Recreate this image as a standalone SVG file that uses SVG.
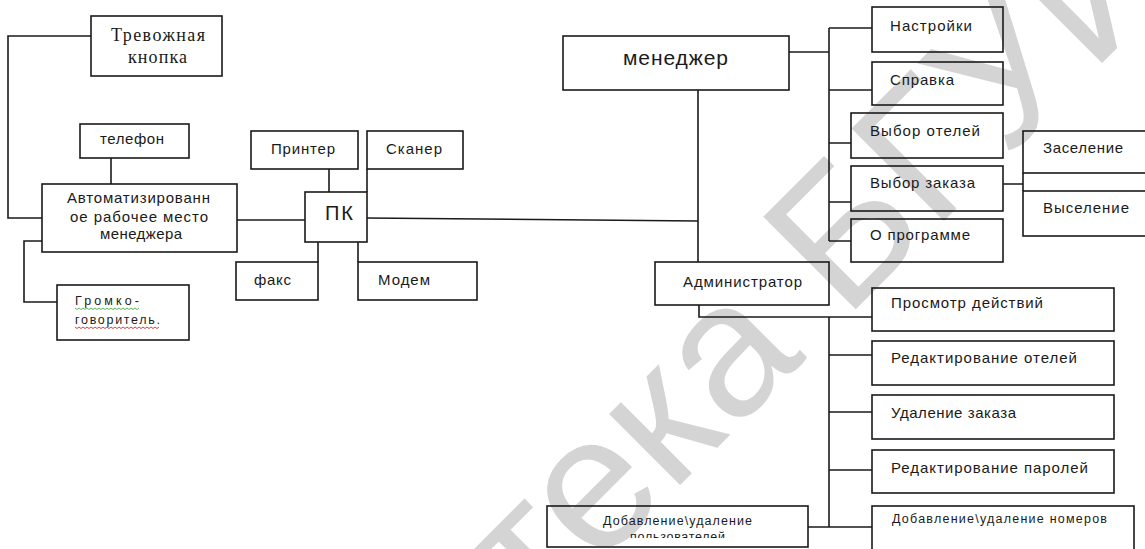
<svg xmlns="http://www.w3.org/2000/svg" width="1145" height="549" viewBox="0 0 1145 549">
<style>
.box{fill:none;stroke:#1a1a1a;stroke-width:1.6}
.ln{fill:none;stroke:#1a1a1a;stroke-width:1.6}
.t{font-family:"Liberation Sans",Arial,sans-serif;font-size:15px;fill:#1a1a1a}
.s{font-family:"Liberation Serif","Times New Roman",serif;font-size:18px;fill:#1a1a1a}
.sm{font-family:"Liberation Sans",Arial,sans-serif;font-size:12.5px;fill:#1a1a1a}
.wm{font-family:"Liberation Sans",Arial,sans-serif;font-size:190px;fill:#d4d4d4}
</style>
<defs>
<clipPath id="clipPolz"><rect x="547" y="506" width="261" height="32"/></clipPath>
</defs>
<rect width="1145" height="549" fill="#ffffff"/>
<text class="wm" transform="translate(77,1088) rotate(-45)">Библиотека БГУИР</text>

<g id="connectors">
<path class="ln" d="M91,36 H8 V218 H42"/>
<path class="ln" d="M111,158 V184"/>
<path class="ln" d="M42,241 H24 V302 H57"/>
<path class="ln" d="M237,220 H305"/>
<path class="ln" d="M329,169 V192"/>
<path class="ln" d="M367,169 V192"/>
<path class="ln" d="M318,242 V262"/>
<path class="ln" d="M358,242 V262"/>
<path class="ln" d="M367,218 L698,221"/>
<path class="ln" d="M698,90 V262"/>
<path class="ln" d="M789,52 H829"/>
<path class="ln" d="M829,28 V241"/>
<path class="ln" d="M829,28 H872 M829,90 H872 M829,143 H851 M829,202 H851 M829,241 H851"/>
<path class="ln" d="M1003,184 H1023 M1023,173 V191"/>
<path class="ln" d="M699,305 V317 H872"/>
<path class="ln" d="M829,317 V527"/>
<path class="ln" d="M829,355 H872 M829,412 H872 M829,470 H872 M808,527 H872"/>
</g>

<g id="trevozhnaya">
<rect class="box" x="91" y="16" width="131" height="60"/>
<text class="s" x="111" y="41" textLength="94">Тревожная</text>
<text class="s" x="128" y="63" textLength="59">кнопка</text>
</g>
<g id="telefon">
<rect class="box" x="80" y="124" width="109" height="34"/>
<text class="t" x="100" y="144" textLength="64">телефон</text>
</g>
<g id="arm">
<rect class="box" x="42" y="184" width="195" height="68"/>
<text class="t" x="67" y="203" textLength="143">Автоматизированн</text>
<text class="t" x="70" y="222" textLength="138">ое рабочее  место</text>
<text class="t" x="100" y="239" textLength="82">менеджера</text>
</g>
<g id="gromkogovoritel">
<rect class="box" x="57" y="285" width="132" height="55"/>
<text class="sm" x="75" y="305" textLength="64">Громко-</text>
<text class="sm" x="75" y="324" textLength="85">говоритель.</text>
<path d="M75,308 l2,1.5 l2,-1.5 l2,1.5 l2,-1.5 l2,1.5 l2,-1.5 l2,1.5 l2,-1.5 l2,1.5 l2,-1.5 l2,1.5 l2,-1.5 l2,1.5 l2,-1.5 l2,1.5 l2,-1.5 l2,1.5 l2,-1.5 l2,1.5 l2,-1.5 l2,1.5 l2,-1.5 l2,1.5 l2,-1.5 l2,1.5 l2,-1.5 l2,1.5 l2,-1.5 l2,1.5 l2,-1.5 l2,1.5 l2,-1.5" fill="none" stroke="#5cb85c" stroke-width="1"/>
<path d="M75,327 l2,1.5 l2,-1.5 l2,1.5 l2,-1.5 l2,1.5 l2,-1.5 l2,1.5 l2,-1.5 l2,1.5 l2,-1.5 l2,1.5 l2,-1.5 l2,1.5 l2,-1.5 l2,1.5 l2,-1.5 l2,1.5 l2,-1.5 l2,1.5 l2,-1.5 l2,1.5 l2,-1.5 l2,1.5 l2,-1.5 l2,1.5 l2,-1.5 l2,1.5 l2,-1.5 l2,1.5 l2,-1.5 l2,1.5 l2,-1.5 l2,1.5 l2,-1.5 l2,1.5 l2,-1.5 l2,1.5 l2,-1.5 l2,1.5 l2,-1.5 l2,1.5 l2,-1.5" fill="none" stroke="#e04040" stroke-width="1"/>
</g>
<g id="printer">
<rect class="box" x="251" y="131" width="107" height="38"/>
<text class="t" x="271" y="154" textLength="64">Принтер</text>
</g>
<g id="scanner">
<rect class="box" x="367" y="131" width="96" height="38"/>
<text class="t" x="386" y="154" textLength="56">Сканер</text>
</g>
<g id="pk">
<rect class="box" x="305" y="192" width="62" height="50"/>
<text class="t" x="325" y="220" style="font-size:20px" textLength="28">ПК</text>
</g>
<g id="faks">
<rect class="box" x="236" y="262" width="82" height="38"/>
<text class="t" x="254" y="285" textLength="37">факс</text>
</g>
<g id="modem">
<rect class="box" x="358" y="262" width="119" height="38"/>
<text class="t" x="378" y="285" textLength="52">Модем</text>
</g>
<g id="menedzher">
<rect class="box" x="563" y="36" width="226" height="54"/>
<text class="t" x="623" y="65" style="font-size:21px" textLength="105">менеджер</text>
</g>
<g id="administrator">
<rect class="box" x="655" y="262" width="174" height="43"/>
<text class="t" x="683" y="287" textLength="119">Администратор</text>
</g>
<g id="nastroiki">
<rect class="box" x="872" y="7" width="131" height="45"/>
<text class="t" x="890" y="31" textLength="82">Настройки</text>
</g>
<g id="spravka">
<rect class="box" x="872" y="62" width="131" height="43"/>
<text class="t" x="890" y="85" textLength="64">Справка</text>
</g>
<g id="vybor_oteley">
<rect class="box" x="851" y="113" width="152" height="45"/>
<text class="t" x="870" y="136" textLength="110">Выбор отелей</text>
</g>
<g id="vybor_zakaza">
<rect class="box" x="851" y="166" width="152" height="45"/>
<text class="t" x="870" y="188" textLength="105">Выбор заказа</text>
</g>
<g id="o_programme">
<rect class="box" x="851" y="219" width="152" height="43"/>
<text class="t" x="870" y="240" textLength="100">О программе</text>
</g>
<g id="zaselenie">
<rect class="box" x="1023" y="131" width="135" height="42"/>
<text class="t" x="1043" y="153" textLength="80">Заселение</text>
</g>
<g id="vyselenie">
<rect class="box" x="1023" y="191" width="135" height="45"/>
<text class="t" x="1043" y="213" textLength="86">Выселение</text>
</g>
<g id="prosmotr">
<rect class="box" x="872" y="288" width="242" height="43"/>
<text class="t" x="891" y="308" textLength="152">Просмотр действий</text>
</g>
<g id="red_oteley">
<rect class="box" x="872" y="341" width="242" height="44"/>
<text class="t" x="891" y="363" textLength="186">Редактирование  отелей</text>
</g>
<g id="udalenie_zakaza">
<rect class="box" x="872" y="395" width="242" height="44"/>
<text class="t" x="891" y="418" textLength="125">Удаление  заказа</text>
</g>
<g id="red_paroley">
<rect class="box" x="872" y="450" width="242" height="43"/>
<text class="t" x="891" y="473" textLength="197">Редактирование  паролей</text>
</g>
<g id="dob_nomerov">
<rect class="box" x="872" y="506" width="262" height="48"/>
<text class="sm" x="892" y="523" textLength="215">Добавление\удаление  номеров</text>
</g>
<g id="dob_polzovateley">
<rect class="box" x="547" y="506" width="261" height="41"/>
<text class="sm" x="603" y="525" textLength="149">Добавление\удаление</text>
<text class="sm" x="630" y="541" textLength="95" clip-path="url(#clipPolz)">пользователей</text>
</g>
</svg>
